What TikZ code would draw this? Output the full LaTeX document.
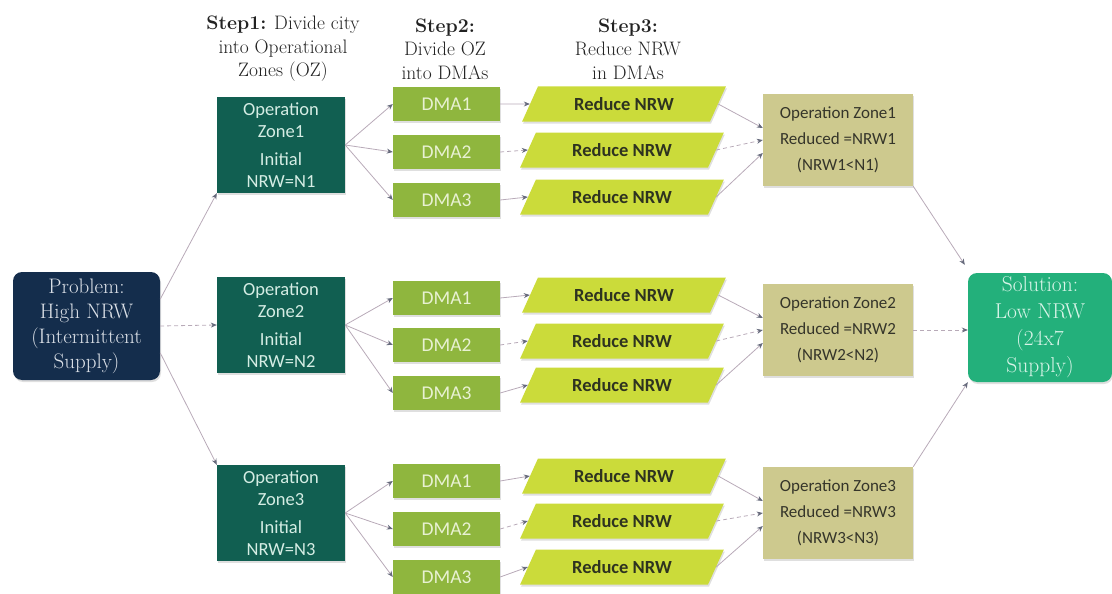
\documentclass[tikz,border=0pt]{standalone}
\usepackage{fontspec}
\setsansfont{Carlito}
\usetikzlibrary{arrows.meta,shapes.geometric,shadows}
\definecolor{probc}{HTML}{142D4C}
\definecolor{probt}{HTML}{DCE1E8}
\definecolor{ozc}{HTML}{115F51}
\definecolor{ozt}{HTML}{D5EDE4}
\definecolor{dmac}{HTML}{8FB63E}
\definecolor{dmat}{HTML}{E8F1D2}
\definecolor{redc}{HTML}{CBDB3A}
\definecolor{redt}{HTML}{2E3320}
\definecolor{resc}{HTML}{CDC98E}
\definecolor{rest}{HTML}{35352A}
\definecolor{solc}{HTML}{23B07B}
\definecolor{solt}{HTML}{D8F4E8}
\definecolor{linec}{HTML}{B8AAB8}
\definecolor{tipc}{HTML}{666A7C}
\definecolor{headc}{HTML}{222222}
\begin{document}
\begin{tikzpicture}[x=1pt,y=-1pt,
  shad/.style={drop shadow={shadow xshift=1pt,shadow yshift=-2pt,opacity=0.25}},
  probbox/.style={rectangle,rounded corners=9pt,fill=probc,text=probt,shad,
    minimum width=147pt,minimum height=108pt,inner sep=0pt,align=center,
    font=\fontsize{21}{25}\selectfont},
  ozbox/.style={rectangle,fill=ozc,text=ozt,shad,minimum width=128pt,minimum height=96pt,
    inner sep=0pt,align=center,font=\sffamily\fontsize{18.5}{22}\selectfont},
  dmabox/.style={rectangle,fill=dmac,text=dmat,shad,minimum width=107pt,minimum height=34pt,
    inner sep=0pt,font=\sffamily\fontsize{19.5}{20}\selectfont},
  redbox/.style={trapezium,trapezium left angle=55,trapezium right angle=125,
    trapezium stretches=true,minimum width=204pt,minimum height=35pt,inner sep=0pt,
    fill=redc,text=redt,shad,font=\sffamily\bfseries\fontsize{18.5}{20}\selectfont},
  resbox/.style={rectangle,fill=resc,text=rest,shad,minimum width=150pt,minimum height=92pt,
    inner sep=0pt,align=center,font=\sffamily\fontsize{17}{26}\selectfont},
  solbox/.style={rectangle,rounded corners=9pt,fill=solc,text=solt,shad,
    minimum width=144pt,minimum height=109pt,inner sep=0pt,align=center,
    font=\fontsize{21.5}{27}\selectfont},
  header/.style={align=center,text=headc,font=\fontsize{19.5}{23.5}\selectfont},
  conn/.style={draw=linec,line width=0.8pt,-{Stealth[length=6pt,width=5pt,color=tipc]}},
  dconn/.style={conn,dash pattern=on 4pt off 3pt}]
\useasboundingbox (0,0) rectangle (1112,594);

% headers
\node[header] (h1) at (283,49) {\textbf{Step1:} Divide city\\into Operational\\Zones (OZ)};
\node[header] (h2) at (445,49) {\textbf{Step2:}\\Divide OZ\\into DMAs};
\node[header] (h3) at (628,49) {\textbf{Step3:}\\Reduce NRW\\in DMAs};

% problem and solution
\node[probbox] (prob) at (86.5,326) {Problem:\\High NRW\\(Intermittent\\Supply)};
\node[solbox] (sol) at (1040,327.5) {Solution:\\Low NRW\\(24x7\\Supply)};

\foreach \g/\oy/\da/\db/\dc/\ra/\rb/\rc/\sy in
  {1/145/104/152/200/104/150/197/140,
   2/325/298/345/393/295/341/385/330,
   3/513/481/529/577/476/521/567/513}{
  \node[ozbox] (oz\g) at (281,\oy) {Operation\\Zone\g\\[6pt]Initial\\NRW=N\g};
  \node[dmabox] (dma\g a) at (446.5,\da) {DMA1};
  \node[dmabox] (dma\g b) at (446.5,\db) {DMA2};
  \node[dmabox] (dma\g c) at (446.5,\dc) {DMA3};
  \node[redbox] (red\g a) at (624,\ra) {Reduce NRW};
  \node[redbox] (red\g b) at (622,\rb) {Reduce NRW};
  \node[redbox] (red\g c) at (622,\rc) {Reduce NRW};
  \node[resbox] (res\g) at (838,\sy) {Operation Zone\g\\Reduced =NRW\g\\(NRW\g<N\g)};
  \draw[conn] (oz\g.east) -- (dma\g a.west);
  \draw[conn] (oz\g.east) -- (dma\g b.west);
  \draw[conn] (oz\g.east) -- (dma\g c.west);
  \draw[conn] (dma\g a.east) -- (red\g a.west);
  \draw[dconn] (dma\g b.east) -- (red\g b.west);
  \draw[conn] (dma\g c.east) -- (red\g c.west);
  \draw[conn] (red\g a.east) -- ([yshift=12pt]res\g.west);
  \draw[dconn] (red\g b.east) -- (res\g.west);
  \draw[conn] (red\g c.east) -- ([yshift=-13pt]res\g.west);
}

\draw[conn] (prob.20) -- (oz1.south west);
\draw[dconn] (prob.east) -- (oz2.west);
\draw[conn] (prob.-20) -- (oz3.north west);

\draw[conn] (res1.south east) -- ([xshift=-3pt,yshift=8pt]sol.north west);
\draw[dconn] (res2.east) -- (sol.west |- res2.east);
\draw[conn] (res3.north east) -- (sol.south west);
\end{tikzpicture}
\end{document}
